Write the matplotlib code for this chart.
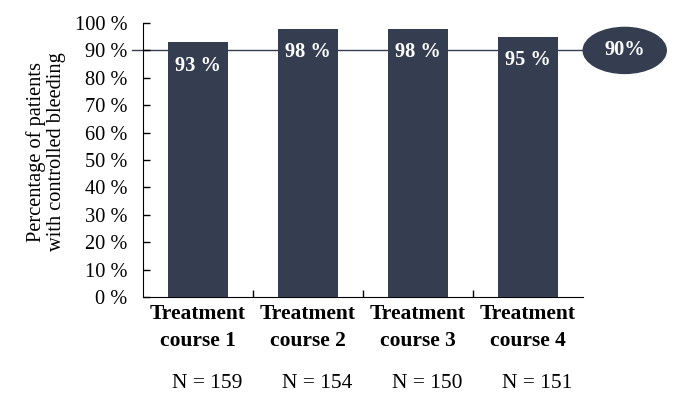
import matplotlib.pyplot as plt
from matplotlib.patches import Ellipse

courses = ["Treatment\ncourse 1", "Treatment\ncourse 2", "Treatment\ncourse 3", "Treatment\ncourse 4"]
pct = [93, 98, 98, 95]
n_pat = [159, 154, 150, 151]
target = 90

bar_col = "#343e50"
plt.rcParams['font.family'] = ['Liberation Serif', 'DejaVu Serif']

fig = plt.figure(figsize=(6.81, 4.04), dpi=100)
ax = fig.add_axes([0.21, 0.265, 0.646, 0.678])

x = range(len(pct))
ax.bar(x, pct, width=0.55, color=bar_col, zorder=3)
for i, v in enumerate(pct):
    ax.text(i, v - 8.6, str(v) + " %", ha="center", va="center", color="white",
            fontsize=14.7, fontweight="bold", zorder=4)

# target line + ellipse
ax.plot([-0.6, 3.5], [target, target], color=bar_col, lw=1, clip_on=False, zorder=1)
ell = Ellipse((3.88, target), 0.755, 16.8, color=bar_col, clip_on=False, zorder=3)
ax.add_patch(ell)
ax.text(3.88, target, str(target) + "%", ha="center", va="center", color="white",
        fontsize=14.7, fontweight="bold", zorder=4)

ax.set_xlim(-0.5, 3.5)
ax.set_ylim(0, 100)
ax.set_yticks(range(0, 101, 10))
ax.set_yticklabels([str(t) + " %" for t in range(0, 101, 10)], fontsize=14.7)
ax.set_xticks([0.5, 1.5, 2.5])
ax.set_xticklabels([])
ax.tick_params(axis="y", direction="in", length=5, width=1, pad=11)
ax.tick_params(axis="x", direction="in", length=5, width=1)
ax.spines["top"].set_visible(False)
ax.spines["right"].set_visible(False)

for i, c in enumerate(courses):
    ax.text(i, -2.5, c, ha="center", va="top", fontsize=15.5, fontweight="bold",
            linespacing=1.45)
    ax.text(i + 0.08, -31.5, "N = " + str(n_pat[i]), ha="center", va="center", fontsize=15.5)

fig.text(0.068, 0.625, "Percentage of patients\nwith controlled bleeding", fontsize=14.7,
         rotation=90, ha="center", va="center", linespacing=1.1)

plt.savefig("out.png", dpi=100)
